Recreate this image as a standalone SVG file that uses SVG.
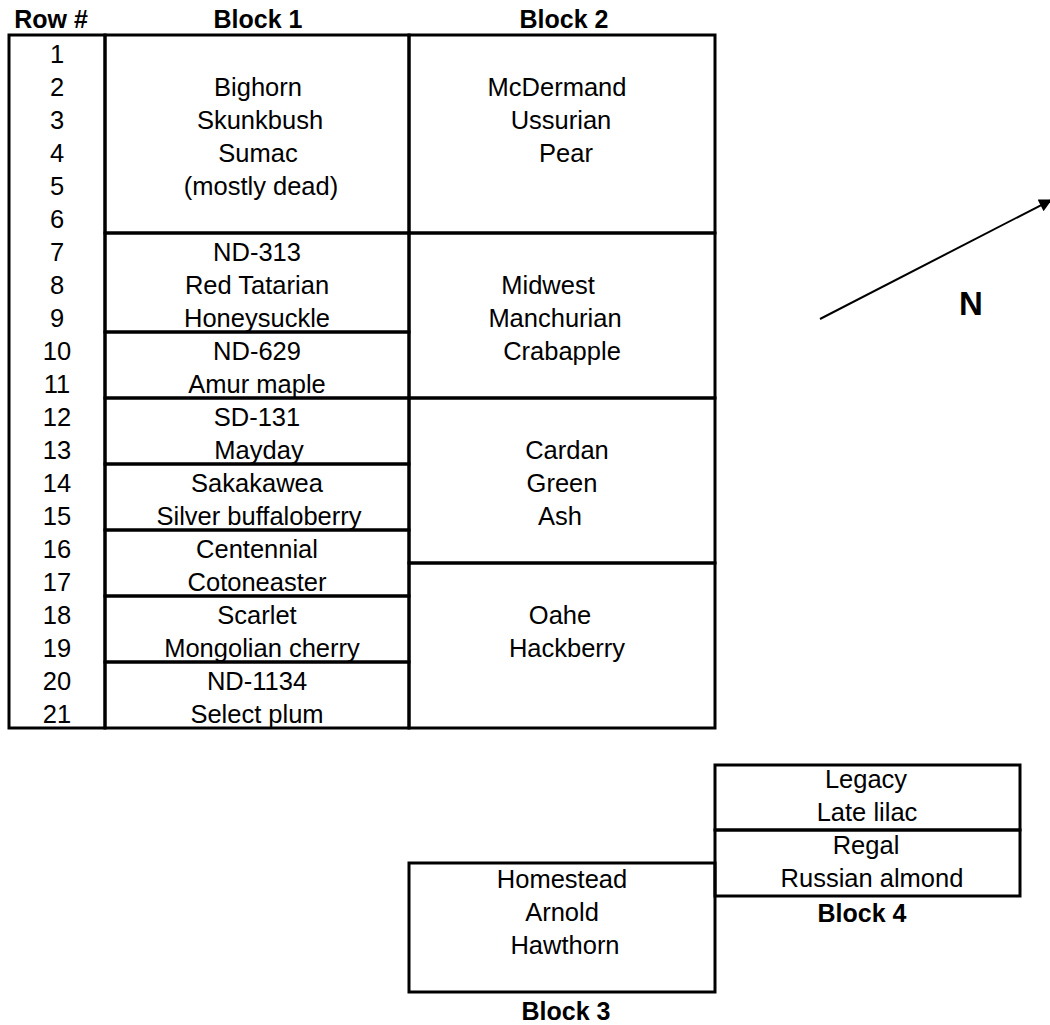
<svg xmlns="http://www.w3.org/2000/svg" width="1050" height="1025" viewBox="0 0 1050 1025">
<style>
  .t { font-family: "Liberation Sans", Arial, sans-serif; font-size: 25.5px; fill: #000; text-anchor: middle; }
  .h { font-family: "Liberation Sans", Arial, sans-serif; font-size: 25px; font-weight: bold; fill: #000; text-anchor: middle; }
  .box { fill: none; stroke: #000; stroke-width: 3; }
  .ln { stroke: #000; stroke-width: 2; }
</style>
<defs>
  <marker id="arrow" viewBox="0 0 10 10" refX="9" refY="5" markerWidth="18" markerHeight="13" markerUnits="userSpaceOnUse" orient="auto">
    <path d="M0,0 L10,5 L0,10 z" fill="#000"/>
  </marker>
</defs>
<rect width="1050" height="1025" fill="#fff"/>

<g id="headers">
  <text class="h" x="51" y="28">Row #</text>
  <text class="h" x="258" y="28">Block 1</text>
  <text class="h" x="564" y="28">Block 2</text>
</g>

<g id="row-numbers">
  <rect class="box" x="9" y="35" width="96" height="693"/>
  <text class="t" x="57" y="62.5">1</text>
  <text class="t" x="57" y="95.5">2</text>
  <text class="t" x="57" y="128.5">3</text>
  <text class="t" x="57" y="161.5">4</text>
  <text class="t" x="57" y="194.5">5</text>
  <text class="t" x="57" y="227.5">6</text>
  <text class="t" x="57" y="260.5">7</text>
  <text class="t" x="57" y="293.5">8</text>
  <text class="t" x="57" y="326.5">9</text>
  <text class="t" x="57" y="359.5">10</text>
  <text class="t" x="57" y="392.5">11</text>
  <text class="t" x="57" y="425.5">12</text>
  <text class="t" x="57" y="458.5">13</text>
  <text class="t" x="57" y="491.5">14</text>
  <text class="t" x="57" y="524.5">15</text>
  <text class="t" x="57" y="557.5">16</text>
  <text class="t" x="57" y="590.5">17</text>
  <text class="t" x="57" y="623.5">18</text>
  <text class="t" x="57" y="656.5">19</text>
  <text class="t" x="57" y="689.5">20</text>
  <text class="t" x="57" y="722.5">21</text>
</g>

<g id="b1-bighorn">
  <rect class="box" x="105" y="35" width="304" height="198"/>
  <text class="t" x="258" y="95.5">Bighorn</text>
  <text class="t" x="260" y="128.5">Skunkbush</text>
  <text class="t" x="258" y="161.5">Sumac</text>
  <text class="t" x="261" y="194.5">(mostly dead)</text>
</g>
<g id="b1-honeysuckle">
  <rect class="box" x="105" y="233" width="304" height="99"/>
  <text class="t" x="257" y="260.5">ND-313</text>
  <text class="t" x="257" y="293.5">Red Tatarian</text>
  <text class="t" x="257" y="326.5">Honeysuckle</text>
</g>
<g id="b1-maple">
  <rect class="box" x="105" y="332" width="304" height="66"/>
  <text class="t" x="257" y="359.5">ND-629</text>
  <text class="t" x="257" y="392.5">Amur maple</text>
</g>
<g id="b1-mayday">
  <rect class="box" x="105" y="398" width="304" height="66"/>
  <text class="t" x="257" y="425.5">SD-131</text>
  <text class="t" x="259" y="458.5">Mayday</text>
</g>
<g id="b1-buffaloberry">
  <rect class="box" x="105" y="464" width="304" height="66"/>
  <text class="t" x="257" y="491.5">Sakakawea</text>
  <text class="t" x="259" y="524.5">Silver buffaloberry</text>
</g>
<g id="b1-cotoneaster">
  <rect class="box" x="105" y="530" width="304" height="66"/>
  <text class="t" x="257" y="557.5">Centennial</text>
  <text class="t" x="257" y="590.5">Cotoneaster</text>
</g>
<g id="b1-cherry">
  <rect class="box" x="105" y="596" width="304" height="66"/>
  <text class="t" x="257" y="623.5">Scarlet</text>
  <text class="t" x="262" y="656.5">Mongolian cherry</text>
</g>
<g id="b1-plum">
  <rect class="box" x="105" y="662" width="304" height="66"/>
  <text class="t" x="257" y="689.5">ND-1134</text>
  <text class="t" x="257" y="722.5">Select plum</text>
</g>

<g id="b2-pear">
  <rect class="box" x="409" y="35" width="306" height="198"/>
  <text class="t" x="557" y="95.5">McDermand</text>
  <text class="t" x="561" y="128.5">Ussurian</text>
  <text class="t" x="566" y="161.5">Pear</text>
</g>
<g id="b2-crabapple">
  <rect class="box" x="409" y="233" width="306" height="165"/>
  <text class="t" x="548" y="293.5">Midwest</text>
  <text class="t" x="555" y="326.5">Manchurian</text>
  <text class="t" x="562" y="359.5">Crabapple</text>
</g>
<g id="b2-ash">
  <rect class="box" x="409" y="398" width="306" height="165"/>
  <text class="t" x="567" y="458.5">Cardan</text>
  <text class="t" x="562" y="491.5">Green</text>
  <text class="t" x="560" y="524.5">Ash</text>
</g>
<g id="b2-hackberry">
  <rect class="box" x="409" y="563" width="306" height="165"/>
  <text class="t" x="560" y="623.5">Oahe</text>
  <text class="t" x="567" y="656.5">Hackberry</text>
</g>

<g id="block3">
  <rect class="box" x="409" y="863" width="306" height="129"/>
  <text class="t" x="562" y="887.5">Homestead</text>
  <text class="t" x="562" y="920.5">Arnold</text>
  <text class="t" x="565" y="953.5">Hawthorn</text>
  <text class="h" x="566" y="1020">Block 3</text>
</g>

<g id="block4">
  <rect class="box" x="715" y="765" width="305" height="65"/>
  <rect class="box" x="715" y="830" width="305" height="66"/>
  <text class="t" x="866" y="788">Legacy</text>
  <text class="t" x="867" y="821">Late lilac</text>
  <text class="t" x="866" y="854">Regal</text>
  <text class="t" x="872" y="887">Russian almond</text>
  <text class="h" x="862" y="922">Block 4</text>
</g>

<g id="north">
  <text class="h" x="971" y="315" style="font-size:33px">N</text>
</g>

<g id="connectors">
  <line class="ln" x1="820" y1="319" x2="1051" y2="200" marker-end="url(#arrow)"/>
</g>
</svg>
